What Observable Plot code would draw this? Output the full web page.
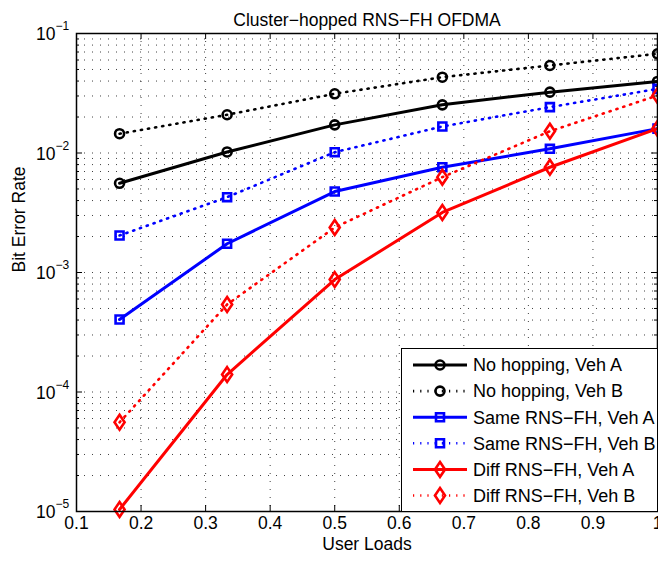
<!DOCTYPE html>
<html><head><meta charset="utf-8">
<script src="https://cdn.jsdelivr.net/npm/d3@7"></script>
<script src="https://cdn.jsdelivr.net/npm/@observablehq/plot@0.6"></script>
<style>
html,body{margin:0;padding:0;background:#fff;overflow:hidden}
#wrap{position:relative;width:658px;height:565px;overflow:hidden;font-family:"Liberation Sans",Arial,Helvetica,sans-serif}
#legend{position:absolute;left:401px;top:348px;width:257px;height:164px;border:1.5px solid #000;background:#fff;box-sizing:border-box}
#legend svg{display:block}
</style></head><body><div id="wrap"><div id="legend"></div></div>
<script>
// ---- data ----
const loads = [0.1667, 0.3333, 0.5, 0.6667, 0.8333, 1.0];
const noHopA = [0.00558, 0.0102, 0.0172, 0.0253, 0.0323, 0.0397];
const noHopB = [0.0145, 0.0209, 0.0313, 0.0431, 0.0540, 0.0676];
const sameA  = [0.000404, 0.00174, 0.00476, 0.0076, 0.01084, 0.0160];
const sameB  = [0.00204, 0.00427, 0.01016, 0.01667, 0.0242, 0.0344];
const diffA  = [1.04e-5, 0.000140, 0.000873, 0.00318, 0.0076, 0.0160];
const diffB  = [5.58e-5, 0.000540, 0.00238, 0.00628, 0.0152, 0.0303];

const seriesNames = ["No hopping, Veh A","No hopping, Veh B","Same RNS\u2212FH, Veh A","Same RNS\u2212FH, Veh B","Diff RNS\u2212FH, Veh A","Diff RNS\u2212FH, Veh B"];
const seriesValues = [noHopA, noHopB, sameA, sameB, diffA, diffB];
const seriesColors = ["#000000","#000000","#0000ff","#0000ff","#ff0000","#ff0000"];
const seriesDotted = [false, true, false, true, false, true];
const seriesSymbols = ["circle","circle","square","square","diamond","diamond"];

const xTicks = [0.1,0.2,0.3,0.4,0.5,0.6,0.7,0.8,0.9,1.0];
const xTickLabels = ["0.1","0.2","0.3","0.4","0.5","0.6","0.7","0.8","0.9","1"];
const yDecades = [1e-5,1e-4,1e-3,1e-2,1e-1];
const yExpLabels = ["\u22125","\u22124","\u22123","\u22122","\u22121"];
const titleText = "Cluster\u2212hopped RNS\u2212FH OFDMA";
const xLabel = "User Loads";
const yLabel = "Bit Error Rate";

// ---- layout ----
const W = 658, H = 565, mT = 33, mB = 54, mL = 76, mR = 1;
const plotW = W - mL - mR, plotH = H - mT - mB;
const FONT = '"Liberation Sans", Arial, Helvetica, sans-serif';

const yMinor = [];
yDecades.slice(0, -1).forEach(d => { for (let k = 2; k <= 9; k++) yMinor.push(d * k); });
const yGrid = yDecades.concat(yMinor);

const diamond = { draw(ctx, size) { const r = Math.sqrt(size / Math.PI); const h = r * 1.65, w = r * 1.12;
  ctx.moveTo(0, -h); ctx.lineTo(w, 0); ctx.lineTo(0, h); ctx.lineTo(-w, 0); ctx.closePath(); } };
const symFor = s => s === "diamond" ? diamond : s;

const rows = seriesNames.flatMap((name, i) => loads.map((x, j) => ({series: name, i, x, y: seriesValues[i][j]})));

const dotted = "1.2,6";
const dotW = 2.6;
const seriesMarks = seriesNames.flatMap((name, i) => {
  const data = rows.filter(r => r.i === i);
  return [
    Plot.line(data, {x: "x", y: "y", stroke: seriesColors[i], strokeWidth: seriesDotted[i] ? dotW : 3,
      strokeDasharray: seriesDotted[i] ? dotted : null, strokeLinejoin: "round"}),
    Plot.dot(data, {x: "x", y: "y", symbol: symFor(seriesSymbols[i]), r: 4.5, stroke: seriesColors[i], fill: "none", strokeWidth: 2.6})
  ];
});

const gridStyle = {stroke: "#000", strokeOpacity: 0.75, strokeWidth: 1, strokeDasharray: "1,7"};
const chart = Plot.plot({
  width: W, height: H, marginTop: mT, marginBottom: mB, marginLeft: mL, marginRight: mR,
  style: {fontFamily: FONT, fontSize: "17px", background: "white", overflow: "visible"},
  x: {type: "linear", domain: [0.1, 1], axis: null},
  y: {type: "log", domain: [1e-5, 1e-1], axis: null},
  marks: [
    Plot.ruleX(xTicks, {x: d => d, ...gridStyle}),
    Plot.ruleY(yGrid, {y: d => d, ...gridStyle}),
    ...seriesMarks,
    Plot.frame({stroke: "#000", strokeWidth: 1.5}),
    Plot.ruleX(xTicks, {x: d => d, insetTop: plotH - 6, stroke: "#000", strokeWidth: 1}),
    Plot.ruleX(xTicks, {x: d => d, insetBottom: plotH - 6, stroke: "#000", strokeWidth: 1}),
    Plot.ruleY(yDecades, {y: d => d, insetRight: plotW - 6, stroke: "#000", strokeWidth: 1}),
    Plot.ruleY(yDecades, {y: d => d, insetLeft: plotW - 6, stroke: "#000", strokeWidth: 1}),
    Plot.ruleY(yMinor, {y: d => d, insetRight: plotW - 3, stroke: "#000", strokeWidth: 1}),
    Plot.ruleY(yMinor, {y: d => d, insetLeft: plotW - 3, stroke: "#000", strokeWidth: 1}),
    Plot.text(xTicks, {x: d => d, text: (d, i) => xTickLabels[i], frameAnchor: "bottom", dy: 17, fontSize: 17.5, fill: "#000"}),
    Plot.text(yDecades, {y: d => d, text: () => "10", frameAnchor: "left", textAnchor: "end", dx: -21, dy: 1, fontSize: 17.5, fill: "#000"}),
    Plot.text(yDecades, {y: d => d, text: (d, i) => yExpLabels[i], frameAnchor: "left", textAnchor: "start", dx: -21, dy: -7, fontSize: 12, fill: "#000"}),
    Plot.text([titleText], {text: d => d, frameAnchor: "top", dy: -20, fontSize: 17.5, fill: "#000"}),
    Plot.text([xLabel], {text: d => d, frameAnchor: "bottom", dy: 38, fontSize: 17.5, fill: "#000"}),
    Plot.text([yLabel], {text: d => d, frameAnchor: "left", dx: -57, rotate: -90, fontSize: 17.5, fill: "#000"})
  ]
});
const wrap = document.getElementById("wrap");
wrap.insertBefore(chart, wrap.firstChild);

// ---- legend ----
const lg = d3.select("#legend").append("svg").attr("width", 255).attr("height", 162)
  .style("font-family", FONT).style("font-size", "18px");
const rowY = i => 16 + i * 26.1;
seriesNames.forEach((name, i) => {
  const g = lg.append("g").attr("transform", `translate(0,${rowY(i)})`);
  g.append("line").attr("x1", 11).attr("x2", 65).attr("y1", 0).attr("y2", 0)
    .attr("stroke", seriesColors[i]).attr("stroke-width", seriesDotted[i] ? dotW : 3)
    .attr("stroke-dasharray", seriesDotted[i] ? dotted : null);
  const sym = d3.symbol().type(seriesSymbols[i] === "circle" ? d3.symbolCircle : seriesSymbols[i] === "square" ? d3.symbolSquare : diamond)
    .size(Math.PI * 4.5 * 4.5);
  g.append("path").attr("d", sym()).attr("transform", "translate(38,0)")
    .attr("fill", "none").attr("stroke", seriesColors[i]).attr("stroke-width", 2.6);
  g.append("text").attr("x", 71).attr("y", 0).attr("dy", "0.35em").attr("fill", "#000").text(name);
});
</script></body></html>
